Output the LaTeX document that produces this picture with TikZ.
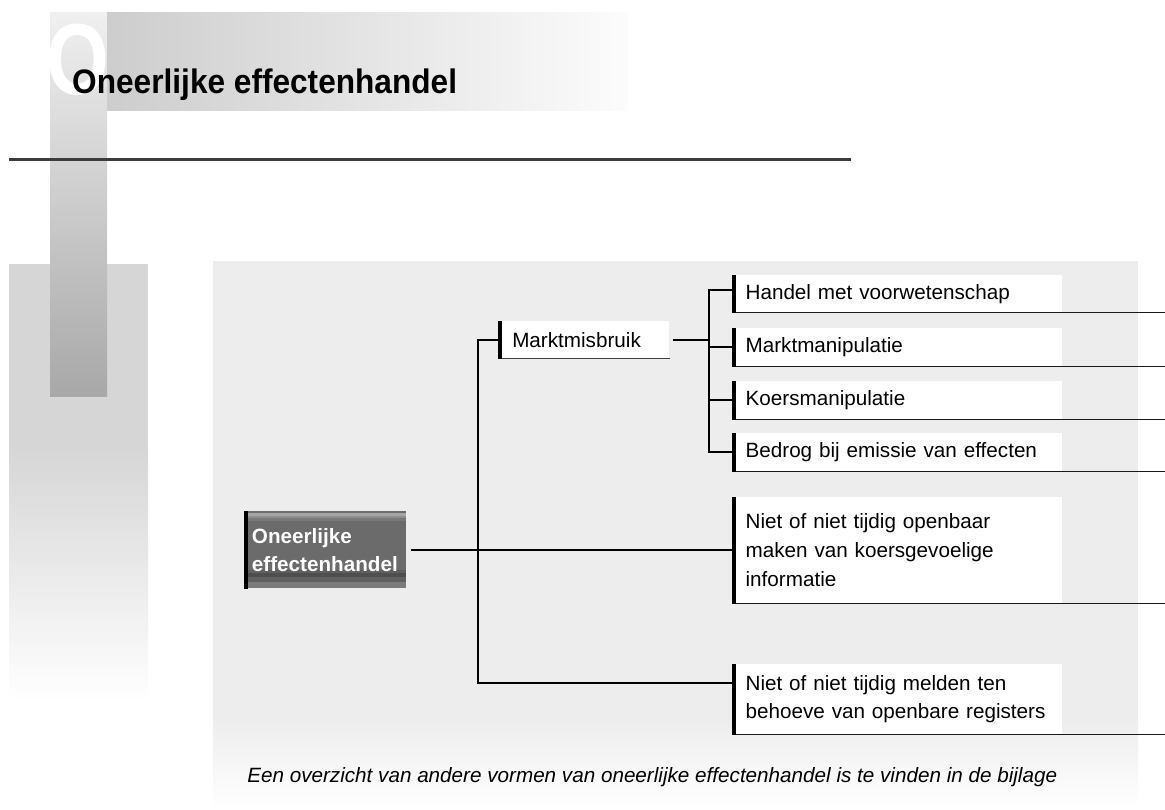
\documentclass[tikz,border=0pt]{standalone}
\usepackage{fontspec}
\setmainfont{Liberation Sans}
\usetikzlibrary{calc}
\definecolor{panelgray}{HTML}{EDEDED}
\definecolor{leftgray}{HTML}{D6D6D6}
\definecolor{striptop}{HTML}{F0F0F0}
\definecolor{stripmid}{HTML}{D8D8D8}
\definecolor{stripbot}{HTML}{A8A8A8}
\definecolor{bandleft}{HTML}{CDCDCD}
\definecolor{bandright}{HTML}{FCFCFC}
\definecolor{rulegray}{HTML}{3C3C3C}
\definecolor{rootfill}{HTML}{6B6B6B}
\definecolor{rsa}{HTML}{A5A5A5}
\definecolor{rsb}{HTML}{8D8D8D}
\definecolor{rsc}{HTML}{777777}
\definecolor{rba}{HTML}{5F5F5F}
\definecolor{rbb}{HTML}{4E4E4E}
\definecolor{rbc}{HTML}{616161}
\definecolor{rbd}{HTML}{7B7B7B}
\definecolor{lineblack}{HTML}{1A1A1A}
\definecolor{mmline}{HTML}{404040}
\begin{document}
\begin{tikzpicture}[x=0.75pt,y=-0.75pt,
  conn/.style={line width=1.5pt, draw=black},
  leftbar/.style={line width=3pt, draw=black},
  underline/.style={line width=1.1pt, draw=lineblack},
  boxtext/.style={font=\fontsize{15.5pt}{21.5pt}\selectfont},
  leaf/.style={boxtext, fill=white, anchor=north west, inner xsep=10pt, inner ysep=0pt,
    text width=227.5pt, align=left},
  rootbox/.style={fill=rootfill, text=white, anchor=north west, inner xsep=5.75pt, inner ysep=0pt,
    text width=110pt, align=left, minimum height=57.75pt,
    font=\bfseries\fontsize{15.5pt}{21pt}\selectfont},
  midbox/.style={boxtext, fill=white, anchor=north west, inner xsep=10.5pt, inner ysep=0pt,
    text width=107.25pt, align=left, minimum height=27.75pt}
]
\useasboundingbox (0,0) rectangle (1165,810);

% background panels
\fill[leftgray] (9,264) rectangle (148,450);
\shade[top color=leftgray, bottom color=white] (9,449.5) rectangle (148,702);
\shade[top color=striptop, middle color=stripmid, bottom color=stripbot] (50,12) rectangle (107,396);
\begin{scope}[shift={(78,94)}, xscale=0.8]
  \node[transform shape, anchor=base, inner sep=0pt, text=white,
    font=\bfseries\fontsize{75.75pt}{80pt}\selectfont] (bigO) at (0,0) {O};
\end{scope}
\shade[left color=bandleft, right color=bandright] (107,12) rectangle (628,110);
\begin{scope}[shift={(72,93)}, xscale=0.93]
  \node[transform shape, anchor=base west, inner sep=0pt, font=\bfseries\fontsize{25.5pt}{30pt}\selectfont]
    (title) at (0,0) {Oneerlijke effectenhandel};
\end{scope}
\draw[line width=2.25pt, draw=rulegray] (9,159.5) -- (851,159.5);

\fill[panelgray] (213,261) rectangle (1138,720);
\shade[top color=panelgray, bottom color=white] (213,719.5) rectangle (1138,808);

% reference coordinates
\coordinate (E) at (1165,0);
\coordinate (V) at (477.5,0);
\coordinate (T) at (709,0);

% nodes
\node[rootbox,
  path picture={
    \fill[rsa] ([yshift=-1.5pt]path picture bounding box.north west) rectangle ([yshift=-3.75pt]path picture bounding box.north east);
    \fill[rsb] ([yshift=-3.75pt]path picture bounding box.north west) rectangle ([yshift=-5.25pt]path picture bounding box.north east);
    \fill[rsc] ([yshift=-5.25pt]path picture bounding box.north west) rectangle ([yshift=-7.5pt]path picture bounding box.north east);
    \fill[rba] ([yshift=13.5pt]path picture bounding box.south west) rectangle ([yshift=11.25pt]path picture bounding box.south east);
    \fill[rbb] ([yshift=11.25pt]path picture bounding box.south west) rectangle ([yshift=8.25pt]path picture bounding box.south east);
    \fill[rbc] ([yshift=8.25pt]path picture bounding box.south west) rectangle ([yshift=4.5pt]path picture bounding box.south east);
    \fill[rbd] ([yshift=4.5pt]path picture bounding box.south west) rectangle (path picture bounding box.south east);
  }] (root) at (244,511) {Oneerlijke\\effectenhandel};

\node[midbox] (mm) at (498,321) {Marktmisbruik};

\node[leaf, minimum height=27.75pt] (b1) at (732,275) {Handel met voorwetenschap};
\node[leaf, minimum height=28.5pt] (b2) at (732,328) {Marktmanipulatie};
\node[leaf, minimum height=28.5pt] (b3) at (732,381) {Koersmanipulatie};
\node[leaf, minimum height=28.5pt] (b4) at (732,433) {Bedrog bij emissie van effecten};
\node[leaf, minimum height=79.5pt] (b5) at (732,497) {Niet of niet tijdig openbaar\\maken van koersgevoelige\\informatie};
\node[leaf, minimum height=52.5pt] (b6) at (732,664) {Niet of niet tijdig melden ten\\behoeve van openbare registers};

\node[anchor=base west, inner sep=0pt, font=\itshape\fontsize{15.5pt}{20pt}\selectfont]
  (note) at (247,782) {Een overzicht van andere vormen van oneerlijke effectenhandel is te vinden in de bijlage};

% underlines and left bars
\draw[mmline, line width=1.1pt] (mm.south west) -- (mm.south east);
\foreach \n in {b1,b2,b3,b4,b5,b6}{
  \draw[underline] (\n.south west) -- (\n.south west -| E);
  \draw[leftbar] ([xshift=1.5pt]\n.north west) -- ([xshift=1.5pt]\n.south west);
}
\draw[leftbar] ([xshift=1.5pt]mm.north west) -- ([xshift=1.5pt]mm.south west);
\draw[leftbar] ([xshift=1.3pt]root.north west) -- ([xshift=1.3pt]root.south west);

% connectors
\coordinate (b1c) at ([yshift=3pt]b1.west);
\coordinate (b6c) at ([yshift=12pt]b6.west);
\draw[conn] ([xshift=3pt]root.east) -- (root.east -| b5.west);
\draw[conn] (mm.west) -| (V |- b6c) -- (b6c);
\draw[conn] ([xshift=2.25pt]mm.east) -- (mm.east -| T);
\draw[conn] (b1c) -| (T |- b4.west) -- (b4.west);
\draw[conn] (b2.west) -- (b2.west -| T);
\draw[conn] (b3.west) -- (b3.west -| T);
\end{tikzpicture}
\end{document}
